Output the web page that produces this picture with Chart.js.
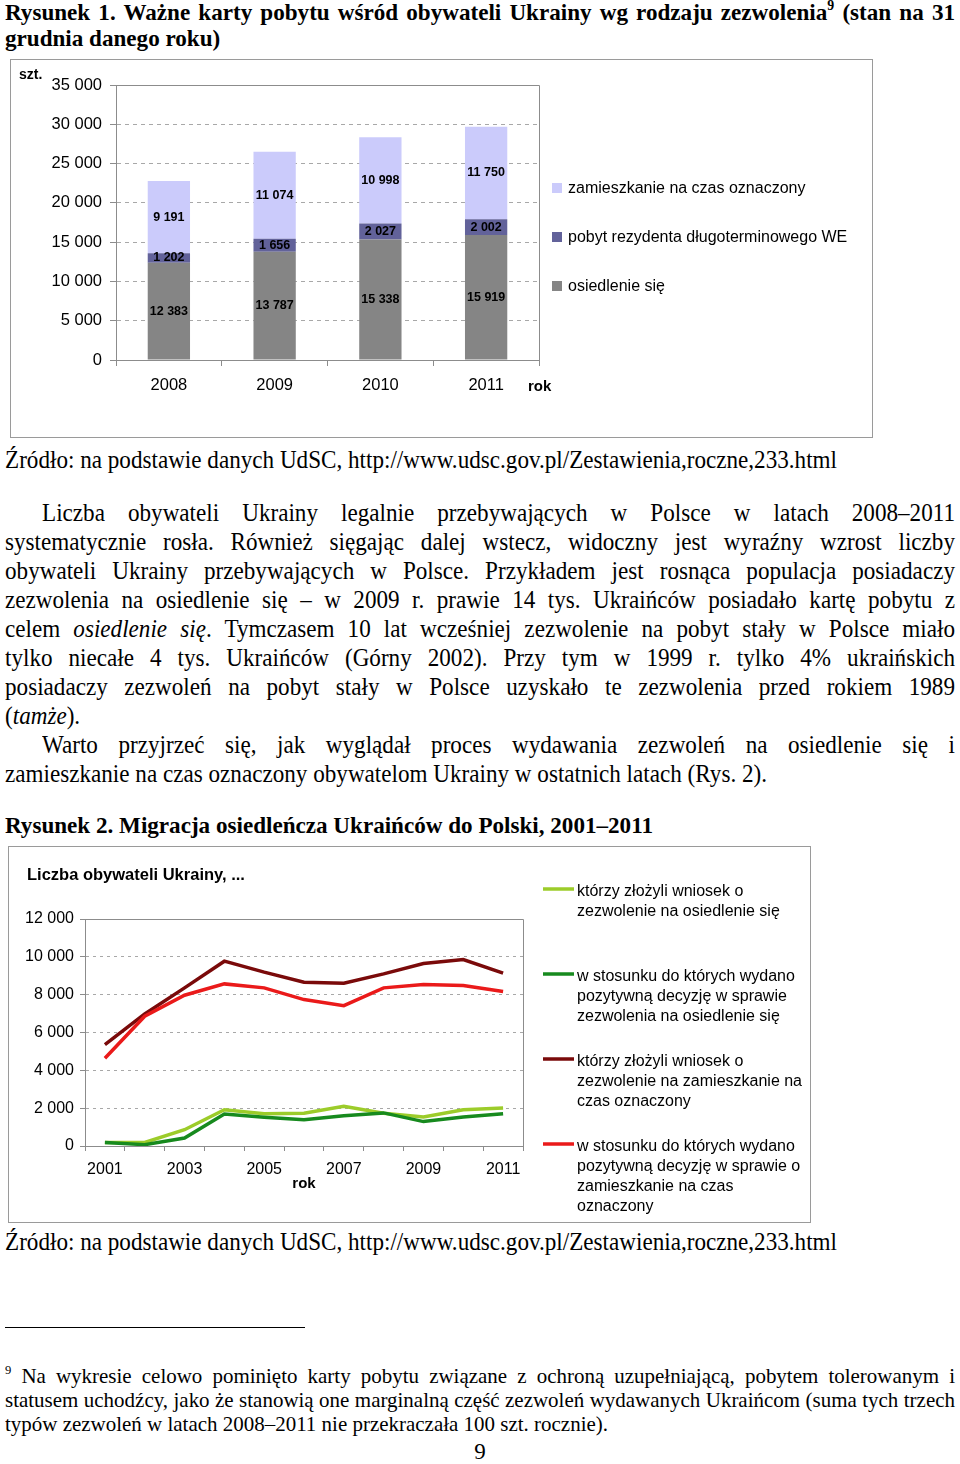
<!DOCTYPE html>
<html><head><meta charset="utf-8">
<script src="https://cdn.jsdelivr.net/npm/chart.js@4.4.1/dist/chart.umd.min.js"></script>
<style>
html,body{margin:0;padding:0;background:#fff;}
body{width:960px;height:1464px;position:relative;overflow:hidden;}
.t{position:absolute;font-family:'Liberation Serif','Times New Roman',serif;color:#000;transform-origin:0 0;}
.t span.in{display:inline;}
.body{font-size:25px;line-height:29px;}
.hd{font-size:23px;line-height:26px;font-weight:bold;}
.fn{font-size:21px;line-height:24px;}
.j{text-align:justify;text-align-last:justify;}
.box{position:absolute;border:1px solid #9a9a9a;box-sizing:border-box;}
.box canvas{display:block;}
sup{font-size:60%;line-height:0;vertical-align:0.7em;}
</style></head><body>

<div class="t hd j" data-g="hd" data-x="5" data-r="955" data-c="14">Rysunek 1. Ważne karty pobytu wśród obywateli Ukrainy wg rodzaju zezwolenia<sup>9</sup> (stan na 31</div>
<div class="t hd" data-g="hd" data-x="5" data-c="40"><span class="in">grudnia danego roku)</span></div>

<div class="box" style="left:10px;top:59px;width:863px;height:379px;"><canvas id="c1" width="861" height="377"></canvas></div>

<div class="t body" data-g="body" data-x="5" data-r="837" data-ref="1" data-c="460"><span class="in">Źródło: na podstawie danych UdSC, http://www.udsc.gov.pl/Zestawienia,roczne,233.html</span></div>

<div class="t body j" data-g="body" data-x="42" data-r="955" data-c="513">Liczba obywateli Ukrainy legalnie przebywających w Polsce w latach 2008–2011</div>
<div class="t body j" data-g="body" data-x="5" data-r="955" data-c="542">systematycznie rosła. Również sięgając dalej wstecz, widoczny jest wyraźny wzrost liczby</div>
<div class="t body j" data-g="body" data-x="5" data-r="955" data-c="571">obywateli Ukrainy przebywających w Polsce. Przykładem jest rosnąca populacja posiadaczy</div>
<div class="t body j" data-g="body" data-x="5" data-r="955" data-c="600">zezwolenia na osiedlenie się – w 2009 r. prawie 14 tys. Ukraińców posiadało kartę pobytu z</div>
<div class="t body j" data-g="body" data-x="5" data-r="955" data-c="629">celem <i>osiedlenie się</i>. Tymczasem 10 lat wcześniej zezwolenie na pobyt stały w Polsce miało</div>
<div class="t body j" data-g="body" data-x="5" data-r="955" data-c="658">tylko niecałe 4 tys. Ukraińców (Górny 2002). Przy tym w 1999 r. tylko 4% ukraińskich</div>
<div class="t body j" data-g="body" data-x="5" data-r="955" data-c="687">posiadaczy zezwoleń na pobyt stały w Polsce uzyskało te zezwolenia przed rokiem 1989</div>
<div class="t body" data-g="body" data-x="5" data-c="716"><span class="in">(<i>tamże</i>).</span></div>
<div class="t body j" data-g="body" data-x="42" data-r="955" data-c="745">Warto przyjrzeć się, jak wyglądał proces wydawania zezwoleń na osiedlenie się i</div>
<div class="t body" data-g="body" data-x="5" data-c="774"><span class="in">zamieszkanie na czas oznaczony obywatelom Ukrainy w ostatnich latach (Rys. 2).</span></div>

<div class="t hd" data-g="hd" data-x="5" data-r="653" data-ref="1" data-c="827"><span class="in">Rysunek 2. Migracja osiedleńcza Ukraińców do Polski, 2001–2011</span></div>

<div class="box" style="left:8px;top:846px;width:803px;height:377px;"><canvas id="c2" width="801" height="375"></canvas></div>

<div class="t body" data-g="body" data-x="5" data-c="1242"><span class="in">Źródło: na podstawie danych UdSC, http://www.udsc.gov.pl/Zestawienia,roczne,233.html</span></div>

<div style="position:absolute;left:5px;top:1327px;width:300px;height:1px;background:#000;"></div>

<div class="t fn j" data-g="fn" data-x="5" data-r="955" data-c="1377"><sup>9</sup> Na wykresie celowo pominięto karty pobytu związane z ochroną uzupełniającą, pobytem tolerowanym i</div>
<div class="t fn j" data-g="fn" data-x="5" data-r="955" data-c="1401">statusem uchodźcy, jako że stanowią one marginalną część zezwoleń wydawanych Ukraińcom (suma tych trzech</div>
<div class="t fn" data-g="fn" data-x="5" data-r="608" data-ref="1" data-c="1425"><span class="in">typów zezwoleń w latach 2008–2011 nie przekraczała 100 szt. rocznie).</span></div>

<div style="position:absolute;left:0;width:960px;top:1438px;text-align:center;font-family:'Liberation Serif',serif;font-size:23px;line-height:28px;">9</div>

<script>
// ---------- text layout (condensed serif look) ----------
(function(){
  const els = Array.from(document.querySelectorAll('.t'));
  const groupScale = {};
  els.forEach(el => {
    if (el.dataset.ref) {
      const w = el.querySelector('span.in').getBoundingClientRect().width;
      groupScale[el.dataset.g] = (parseFloat(el.dataset.r) - parseFloat(el.dataset.x)) / w;
    }
  });
  const offs = {body: 15, hd: 14, fn: 13};
  els.forEach(el => {
    const g = el.dataset.g, x = parseFloat(el.dataset.x), c = parseFloat(el.dataset.c);
    const s = groupScale[g] || 0.82;
    el.style.left = x + 'px';
    el.style.top = (c - offs[g]) + 'px';
    if (el.classList.contains('j')) {
      el.style.width = ((parseFloat(el.dataset.r) - x) / s) + 'px';
      el.style.transform = 'scaleX(' + s + ')';
    } else {
      el.style.whiteSpace = 'nowrap';
      el.style.transform = 'scaleX(' + s + ')';
    }
  });
})();

// ---------- DATA: chart 1 ----------
const years1 = ['2008', '2009', '2010', '2011'];
const osiedlenie = [12383, 13787, 15338, 15919];
const rezydent = [1202, 1656, 2027, 2002];
const zamieszkanie = [9191, 11074, 10998, 11750];
const labels1 = ['osiedlenie się', 'pobyt rezydenta długoterminowego WE', 'zamieszkanie na czas oznaczony'];
const colors1 = ['#858585', '#62629a', '#cbcbfb'];
const yMax1 = 35000, yStep1 = 5000;

// ---------- DATA: chart 2 ----------
const years2 = ['2001','2002','2003','2004','2005','2006','2007','2008','2009','2010','2011'];
const wniosekOsiedlenie   = [190, 190, 860, 1920, 1710, 1730, 2100, 1730, 1530, 1920, 2010];
const decyzjaOsiedlenie   = [190, 70, 420, 1690, 1520, 1390, 1600, 1750, 1290, 1530, 1710];
const wniosekZamieszkanie = [5360, 6980, 8360, 9770, 9190, 8660, 8610, 9100, 9650, 9860, 9140];
const decyzjaZamieszkanie = [4640, 6860, 7970, 8570, 8360, 7740, 7420, 8360, 8540, 8480, 8170];
const legendLines2 = [
  ['którzy złożyli wniosek o', 'zezwolenie na osiedlenie się'],
  ['w stosunku do których wydano', 'pozytywną decyzję w sprawie', 'zezwolenia na osiedlenie się'],
  ['którzy złożyli wniosek o', 'zezwolenie na zamieszkanie na', 'czas oznaczony'],
  ['w stosunku do których wydano', 'pozytywną decyzję w sprawie o', 'zamieszkanie na czas', 'oznaczony']
];
const colors2 = ['#9ccc2a', '#178a1e', '#7a0a0a', '#ea1a1a'];
const yMax2 = 12000, yStep2 = 2000;

const FONT = "'Liberation Sans', Arial, Helvetica, sans-serif";
Chart.defaults.font.family = FONT;
Chart.defaults.color = '#000';

function fmt(v){ return String(v).replace(/\B(?=(\d{3})+(?!\d))/g, '\u00a0'); }

function gridColor(max){
  return ctx => (ctx.tick && (ctx.tick.value === 0 || ctx.tick.value === max)) ? 'rgba(0,0,0,0)' : '#a8a8a8';
}

const frame = {
  id: 'frame',
  beforeDatasetsDraw(chart){
    const a = chart.chartArea, c = chart.ctx;
    c.save(); c.strokeStyle = '#8c8c8c'; c.lineWidth = 1;
    c.beginPath();
    c.moveTo(a.left, a.top + 0.5); c.lineTo(a.right + 0.5, a.top + 0.5); c.lineTo(a.right + 0.5, a.bottom);
    c.stroke(); c.restore();
  }
};

// ---------- chart 1 ----------
const extras1 = {
  id: 'extras1',
  afterDatasetsDraw(chart){
    const c = chart.ctx, a = chart.chartArea;
    c.save();
    // value labels
    c.font = 'bold 12.5px ' + FONT; c.fillStyle = '#000'; c.textAlign = 'center'; c.textBaseline = 'middle';
    chart.data.datasets.forEach((ds, i) => {
      chart.getDatasetMeta(i).data.forEach((el, j) => {
        c.fillText(fmt(ds.data[j]), el.x, (el.y + el.base) / 2);
      });
    });
    // legend (reverse order)
    c.font = '16px ' + FONT; c.textAlign = 'left';
    const ys = [128, 177, 226];
    const n = chart.data.datasets.length;
    for (let k = 0; k < n; k++) {
      const ds = chart.data.datasets[n - 1 - k];
      c.fillStyle = ds.backgroundColor;
      c.fillRect(541, ys[k] - 5, 10, 10);
      c.fillStyle = '#000';
      c.fillText(ds.label, 557, ys[k] + 1);
    }
    // axis captions
    c.font = 'bold 14px ' + FONT;
    c.fillText('szt.', 8, 15);
    c.font = 'bold 15px ' + FONT;
    c.fillText('rok', a.right - 11, a.bottom + 27);
    c.restore();
  }
};

new Chart(document.getElementById('c1'), {
  type: 'bar',
  data: {
    labels: years1,
    datasets: [
      {label: labels1[0], data: osiedlenie, backgroundColor: colors1[0]},
      {label: labels1[1], data: rezydent, backgroundColor: colors1[1]},
      {label: labels1[2], data: zamieszkanie, backgroundColor: colors1[2]}
    ]
  },
  options: {
    responsive: false, animation: false,
    layout: {padding: {left: 0, right: 333, top: 25, bottom: 37}},
    datasets: {bar: {categoryPercentage: 1, barPercentage: 0.4, borderWidth: 0}},
    plugins: {legend: {display: false}, tooltip: {enabled: false}},
    scales: {
      x: {
        stacked: true,
        grid: {drawOnChartArea: false, drawTicks: true, tickLength: 6, offset: true, color: '#8c8c8c'},
        border: {color: '#8c8c8c'},
        ticks: {font: {size: 16.5}, padding: 10, maxRotation: 0},
        afterFit: s => { s.height = 40; }
      },
      y: {
        stacked: true, min: 0, max: yMax1,
        grid: {color: gridColor(yMax1), tickLength: 6, tickColor: '#8c8c8c'},
        border: {color: '#8c8c8c', dash: [4, 4]},
        ticks: {stepSize: yStep1, font: {size: 16.5}, padding: 8, callback: v => fmt(v)},
        afterFit: s => { s.width = 105; }
      }
    }
  },
  plugins: [frame, extras1]
});

// ---------- chart 2 ----------
const extras2 = {
  id: 'extras2',
  afterDraw(chart){
    const c = chart.ctx, a = chart.chartArea;
    c.save();
    c.fillStyle = '#000'; c.textBaseline = 'middle'; c.textAlign = 'left';
    c.font = 'bold 16.5px ' + FONT;
    c.fillText('Liczba obywateli Ukrainy, ...', 18, 28);
    c.textAlign = 'center';
    c.font = 'bold 15px ' + FONT;
    c.fillText('rok', (a.left + a.right) / 2, a.bottom + 38);
    // legend
    const starts = [45, 130, 215, 300];
    c.textAlign = 'left'; c.font = '16px ' + FONT;
    chart.data.datasets.forEach((ds, i) => {
      const y0 = starts[i];
      c.strokeStyle = ds.borderColor; c.lineWidth = 3.5;
      c.beginPath(); c.moveTo(534, y0 - 3); c.lineTo(565, y0 - 3); c.stroke();
      legendLines2[i].forEach((ln, k) => c.fillText(ln, 568, y0 + k * 20));
    });
    c.restore();
  }
};

const series2 = [wniosekOsiedlenie, decyzjaOsiedlenie, wniosekZamieszkanie, decyzjaZamieszkanie];
new Chart(document.getElementById('c2'), {
  type: 'line',
  data: {
    labels: years2,
    datasets: series2.map((d, i) => ({
      label: legendLines2[i].join(' '),
      data: d,
      borderColor: colors2[i],
      backgroundColor: colors2[i],
      borderWidth: 3.5,
      pointRadius: 0,
      tension: 0,
      fill: false,
      order: series2.length - i
    }))
  },
  options: {
    responsive: false, animation: false,
    layout: {padding: {left: 0, right: 287, top: 72, bottom: 36}},
    plugins: {legend: {display: false}, tooltip: {enabled: false}},
    scales: {
      x: {
        offset: true,
        grid: {drawOnChartArea: false, drawTicks: true, tickLength: 5, offset: true, color: '#8c8c8c'},
        border: {color: '#8c8c8c'},
        ticks: {font: {size: 16}, padding: 9, maxRotation: 0, autoSkip: false,
                callback: (v, i) => (i % 2 === 0 ? years2[i] : '')},
        afterFit: s => { s.height = 40; }
      },
      y: {
        min: 0, max: yMax2,
        grid: {color: gridColor(yMax2), tickLength: 5, tickColor: '#8c8c8c'},
        border: {color: '#8c8c8c', dash: [3, 4]},
        ticks: {stepSize: yStep2, font: {size: 16}, padding: 6, callback: v => fmt(v)},
        afterFit: s => { s.width = 76; }
      }
    }
  },
  plugins: [frame, extras2]
});
</script>
</body></html>
